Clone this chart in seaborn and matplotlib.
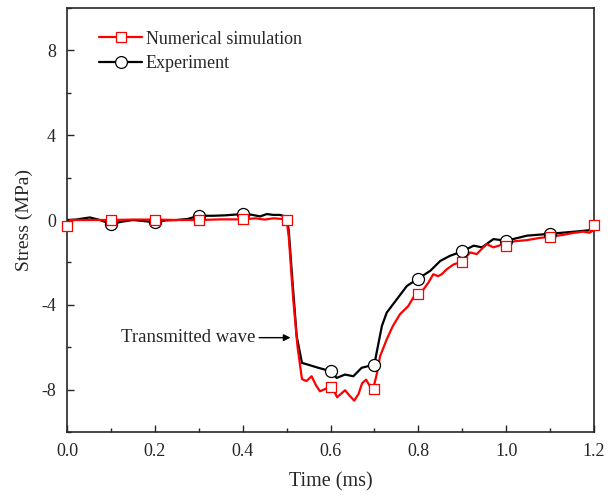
import matplotlib
matplotlib.use("Agg")
import matplotlib.pyplot as plt
import numpy as np
import pandas as pd
import seaborn as sns
from matplotlib.lines import Line2D
from matplotlib.ticker import MultipleLocator, FormatStrFormatter

# simulated transmitted wave (red)
sim_t = [0.000, 0.007, 0.05, 0.1, 0.15, 0.2, 0.25, 0.3, 0.35, 0.4, 0.43, 0.45, 0.47, 0.49,
         0.500, 0.505, 0.515, 0.525, 0.535, 0.545, 0.557, 0.567, 0.576, 0.590, 0.603, 0.615,
         0.624, 0.633, 0.644, 0.654, 0.664, 0.672, 0.681, 0.690, 0.697, 0.705, 0.713, 0.728,
         0.742, 0.758, 0.777, 0.793, 0.812, 0.823, 0.834, 0.845, 0.853, 0.865, 0.880, 0.894,
         0.906, 0.918, 0.933, 0.945, 0.956, 0.971, 0.994, 1.02, 1.047, 1.075, 1.10, 1.13,
         1.15, 1.175, 1.19, 1.198, 1.2]
sim_stress = [-0.27, 0.0, 0.0, 0.0, 0.02, 0.02, 0.0, 0.0, 0.03, 0.03, 0.08, 0.02, 0.08, 0.05,
              0.0, -0.8, -3.7, -6.0, -7.5, -7.6, -7.37, -7.8, -8.08, -7.95, -7.84, -8.36,
              -8.2, -8.03, -8.3, -8.52, -8.2, -7.7, -7.53, -7.85, -7.97, -7.3, -6.42, -5.63,
              -5.0, -4.45, -4.06, -3.5, -3.27, -2.95, -2.56, -2.65, -2.56, -2.32, -2.1, -2.0,
              -1.8, -1.53, -1.61, -1.35, -1.14, -1.29, -1.14, -1.0, -0.95, -0.85, -0.79, -0.7,
              -0.62, -0.55, -0.6, -0.5, -0.24]

# experiment (black)
exp_t = [0.0, 0.02, 0.052, 0.075, 0.1, 0.125, 0.15, 0.175, 0.2, 0.225, 0.25, 0.275, 0.3,
         0.333, 0.36, 0.4, 0.42, 0.44, 0.455, 0.47, 0.485, 0.5, 0.505, 0.512, 0.523, 0.535,
         0.553, 0.572, 0.6, 0.614, 0.633, 0.652, 0.671, 0.7, 0.705, 0.717, 0.728, 0.751,
         0.774, 0.8, 0.827, 0.85, 0.872, 0.9, 0.926, 0.945, 0.971, 1.0, 1.047, 1.1, 1.161, 1.2]
exp_stress = [0.0, 0.02, 0.12, 0.0, -0.19, -0.08, 0.0, -0.05, -0.11, -0.02, 0.0, 0.05, 0.2,
              0.2, 0.22, 0.28, 0.25, 0.17, 0.28, 0.24, 0.24, 0.15, -0.5, -2.5, -5.48, -6.74,
              -6.85, -6.97, -7.13, -7.45, -7.29, -7.37, -6.97, -6.82, -6.26, -5.0, -4.37, -3.74,
              -3.11, -2.76, -2.4, -1.93, -1.69, -1.48, -1.21, -1.29, -0.9, -0.98, -0.74, -0.65,
              -0.54, -0.46]

# marker positions
sim_mark_t = [0.0, 0.1, 0.2, 0.3, 0.4, 0.5, 0.6, 0.7, 0.8, 0.9, 1.0, 1.1, 1.2]
sim_mark_stress = [-0.27, 0.0, 0.02, 0.0, 0.03, 0.0, -7.89, -7.97, -3.50, -1.96, -1.21, -0.79, -0.24]
exp_mark_t = [0.1, 0.2, 0.3, 0.4, 0.6, 0.7, 0.8, 0.9, 1.0, 1.1]
exp_mark_stress = [-0.19, -0.11, 0.2, 0.28, -7.13, -6.82, -2.76, -1.48, -0.98, -0.65]

sns.set_style("ticks")
plt.rcParams["font.family"] = ["Liberation Serif", "DejaVu Serif"]
plt.rcParams["axes.unicode_minus"] = False

fig, ax = plt.subplots(figsize=(6.1, 4.98), dpi=100)
fig.subplots_adjust(left=67 / 610, right=594 / 610, top=1 - 8 / 498, bottom=1 - 432 / 498)

sim = pd.DataFrame({"t": sim_t, "s": sim_stress})
exp = pd.DataFrame({"t": exp_t, "s": exp_stress})

sns.lineplot(data=exp, x="t", y="s", sort=False, color="black", lw=1.6, ax=ax, zorder=2)
sns.lineplot(data=sim, x="t", y="s", sort=False, color="#ff0000", lw=1.6, ax=ax, zorder=3)
sns.scatterplot(x=exp_mark_t, y=exp_mark_stress, marker="o", s=75, facecolor="white",
                edgecolor="black", linewidth=0.9, ax=ax, zorder=4, clip_on=False)
sns.scatterplot(x=sim_mark_t, y=sim_mark_stress, marker="s", s=55, facecolor="white",
                edgecolor="#ff0000", linewidth=0.9, ax=ax, zorder=5, clip_on=False)

ax.set_xlim(0, 1.2)
ax.set_ylim(-10, 10)
ax.xaxis.set_major_locator(MultipleLocator(0.2))
ax.xaxis.set_minor_locator(MultipleLocator(0.1))
ax.yaxis.set_major_locator(MultipleLocator(4))
ax.yaxis.set_minor_locator(MultipleLocator(2))
ax.set_yticks([-8, -4, 0, 4, 8])
ax.xaxis.set_major_formatter(FormatStrFormatter("%.1f"))
ax.tick_params(which="both", direction="in", labelsize=13, width=1.0, pad=8)
ax.tick_params(which="major", length=5)
ax.tick_params(which="minor", length=3)
for sp in ax.spines.values():
    sp.set_linewidth(1.2)
    sp.set_visible(True)

ax.set_xlabel("Time (ms)", fontsize=14.5, labelpad=9)
ax.set_ylabel("Stress (MPa)", fontsize=14, labelpad=6)

ax.annotate("Transmitted wave", xy=(0.509, -5.55), xytext=(0.43, -5.55),
            fontsize=13.5, ha="right", va="center",
            arrowprops=dict(arrowstyle="-|>", color="black", lw=1.0, mutation_scale=10,
                            shrinkA=0, shrinkB=0))

handles = [
    Line2D([], [], color="#ff0000", lw=1.6, marker="s", markersize=7.5,
           markerfacecolor="white", markeredgecolor="#ff0000", markeredgewidth=0.9),
    Line2D([], [], color="black", lw=1.6, marker="o", markersize=8.5,
           markerfacecolor="white", markeredgecolor="black", markeredgewidth=0.9),
]
ax.legend(handles, ["Numerical simulation", "Experiment"], loc="upper left",
          bbox_to_anchor=(0.03, 0.985), frameon=False, fontsize=13,
          handlelength=2.4, handletextpad=0.2, labelspacing=0.4)

fig.savefig("out.png", dpi=100)
